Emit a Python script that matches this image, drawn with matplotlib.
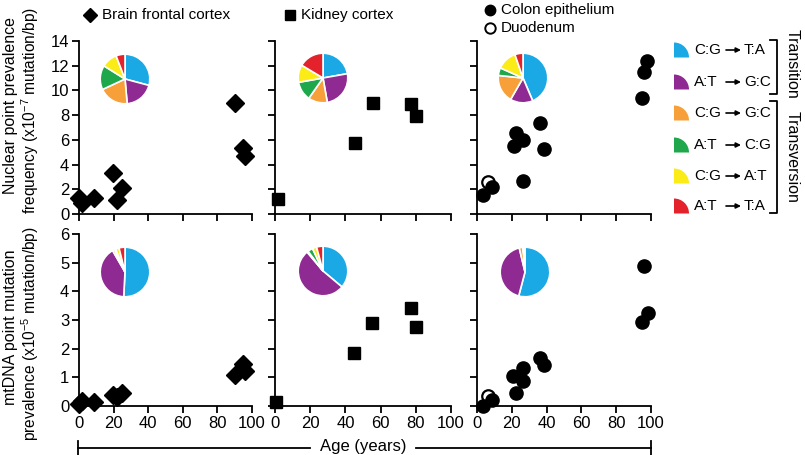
import matplotlib
matplotlib.use('Agg')
import matplotlib.pyplot as plt
from matplotlib.patches import Wedge
from matplotlib.lines import Line2D

plt.rcParams['font.family'] = ['Liberation Sans', 'DejaVu Sans']
plt.rcParams['mathtext.fontset'] = 'custom'
plt.rcParams['mathtext.rm'] = 'Liberation Sans'
plt.rcParams['mathtext.it'] = 'Liberation Sans'
plt.rcParams['mathtext.default'] = 'regular'

W, H = 805, 455

# ---- data ----
brain_age_nuc = [0, 1.5, 8.7, 19.9, 21.8, 25.1, 90, 94.8, 95.8]
brain_nuc = [1.27, 0.86, 1.27, 3.34, 1.13, 2.08, 8.96, 5.31, 4.69]
brain_age_mt = [0, 1.5, 8.7, 19.9, 21.8, 25.1, 90, 94.8, 95.8]
brain_mt = [0.06, 0.18, 0.14, 0.37, 0.32, 0.47, 1.07, 1.48, 1.23]

kidney_age_nuc = [1.5, 45.5, 55.4, 77.2, 80.1]
kidney_nuc = [1.19, 5.77, 8.96, 8.87, 7.93]
kidney_age_mt = [0.6, 45, 55, 77, 79.9]
kidney_mt = [0.14, 1.86, 2.88, 3.43, 2.74]

colon_age_nuc = [3.4, 8.6, 21.1, 22.4, 26.2, 26.2, 36, 38.3, 94.8, 95.8, 97.7]
colon_nuc = [1.54, 2.16, 5.53, 6.53, 5.99, 2.67, 7.39, 5.23, 9.36, 11.46, 12.39]
colon_age_mt = [3.4, 8.6, 20.5, 22.6, 26.2, 26.4, 36, 38.3, 94.8, 96.2, 98.1]
colon_mt = [0.0, 0.22, 1.04, 0.46, 1.31, 0.86, 1.69, 1.42, 2.94, 4.89, 3.23]

duod_age_nuc = [6.1]
duod_nuc = [2.62]
duod_age_mt = [6.3]
duod_mt = [0.35]

mut_from = ['C:G', 'A:T', 'C:G', 'A:T', 'C:G', 'A:T']
mut_to = ['T:A', 'G:C', 'G:C', 'C:G', 'A:T', 'T:A']
mut_colors = ['#1ba9e6', '#8e2a91', '#f7a03a', '#1ea84b', '#fbeb16', '#e3222b']

# pie shares (degrees) per panel
pie_brain_nuc = [105, 70, 70, 57, 37, 21]
pie_kidney_nuc = [80, 90, 45, 45, 41, 59]
pie_colon_nuc = [157, 53, 66, 18, 47, 19]
pie_brain_mt = [183, 147, 5, 3, 8, 14]
pie_kidney_mt = [130, 190, 3, 12, 10, 15]
pie_colon_mt = [195, 152, 9, 0.5, 2, 2]

fig = plt.figure(figsize=(W / 100, H / 100), dpi=100)


def px_axes(x0, y0, x1, y1):
    return fig.add_axes([x0 / W, 1 - y1 / H, (x1 - x0) / W, (y1 - y0) / H])


cols = [(79, 252), (275, 451), (477, 651)]
rows = [(41, 214), (234, 406)]

axes = {}
for r, (y0, y1) in enumerate(rows):
    for c, (x0, x1) in enumerate(cols):
        ax = px_axes(x0, y0, x1, y1)
        for s in ['top', 'right']:
            ax.spines[s].set_visible(False)
        for s in ['left', 'bottom']:
            ax.spines[s].set_linewidth(1.3)
        ax.set_xlim(0, 100)
        ax.set_xticks([0, 20, 40, 60, 80, 100])
        ax.tick_params(direction='out', length=5, width=1.3, labelsize=12, pad=2)
        if r == 0:
            ax.set_ylim(0, 14)
            ax.set_yticks(range(0, 15, 2))
            ax.set_xticklabels([])
        else:
            ax.set_ylim(0, 6)
            ax.set_yticks(range(0, 7))
        if c > 0:
            ax.set_yticklabels([])
        ax.patch.set_alpha(0)
        axes[(r, c)] = ax

mk = dict(color='black', linestyle='none', clip_on=False, zorder=5)
axes[(0, 0)].plot(brain_age_nuc, brain_nuc, marker='D', ms=9.5, **mk)
axes[(1, 0)].plot(brain_age_mt, brain_mt, marker='D', ms=9.5, **mk)
axes[(0, 1)].plot(kidney_age_nuc, kidney_nuc, marker='s', ms=8.5, **mk)
axes[(1, 1)].plot(kidney_age_mt, kidney_mt, marker='s', ms=8.5, **mk)
axes[(0, 2)].plot(colon_age_nuc, colon_nuc, marker='o', ms=9.5, **mk)
axes[(1, 2)].plot(colon_age_mt, colon_mt, marker='o', ms=9.5, **mk)
axes[(0, 2)].plot(duod_age_nuc, duod_nuc, marker='o', ms=9, mfc='white',
                  mec='black', mew=1.6, linestyle='none', zorder=4)
axes[(1, 2)].plot(duod_age_mt, duod_mt, marker='o', ms=9, mfc='white',
                  mec='black', mew=1.6, linestyle='none', zorder=4)

# pies
pie_specs = [((125, 79), pie_brain_nuc), ((323, 78), pie_kidney_nuc),
             ((523, 78), pie_colon_nuc), ((125, 272), pie_brain_mt),
             ((323, 271), pie_kidney_mt), ((525, 272), pie_colon_mt)]
R = 31
for (cx, cy), vals in pie_specs:
    pax = px_axes(cx - R, cy - R, cx + R, cy + R)
    pax.pie(vals, colors=mut_colors, startangle=90, counterclock=False,
            wedgeprops=dict(edgecolor='white', linewidth=1.2))
    pax.set_aspect('equal')

# y labels, one text per line so the superscript does not spread the lines
lab = dict(rotation=90, ha='center', va='center', fontsize=11.5)
fig.text(11 / W, 1 - 106 / H, 'Nuclear point prevalence', **lab)
fig.text(30 / W, 1 - 110 / H, 'frequency (x10$^{-7}$ mutation/bp)', fontsize=11.2,
         rotation=90, ha='center', va='center')
fig.text(11 / W, 1 - 327 / H, 'mtDNA point mutation', **lab)
fig.text(30 / W, 1 - 334 / H, 'prevalence (x10$^{-5}$ mutation/bp)', fontsize=11.2,
         rotation=90, ha='center', va='center')

# top legends
fig.add_artist(Line2D([90 / W], [1 - 15 / H], marker='D', ms=7.5, color='black'))
fig.text(102 / W, 1 - 15 / H, 'Brain frontal cortex', va='center', fontsize=11)
fig.add_artist(Line2D([290 / W], [1 - 15 / H], marker='s', ms=7, color='black'))
fig.text(301 / W, 1 - 15 / H, 'Kidney cortex', va='center', fontsize=11)
fig.add_artist(Line2D([490 / W], [1 - 10 / H], marker='o', ms=7.5, color='black'))
fig.text(501 / W, 1 - 10 / H, 'Colon epithelium', va='center', fontsize=11)
fig.add_artist(Line2D([490 / W], [1 - 28 / H], marker='o', ms=7.5, mfc='white',
                      mec='black', mew=1.4, color='black'))
fig.text(501 / W, 1 - 28 / H, 'Duodenum', va='center', fontsize=11)

# right legend, in pixel units
lax = px_axes(660, 30, 805, 230)
lax.set_xlim(660, 805)
lax.set_ylim(230, 30)
lax.axis('off')
leg_y = [50, 82, 113, 145, 176, 206]
for yy, a, b, col in zip(leg_y, mut_from, mut_to, mut_colors):
    lax.add_patch(Wedge((674, yy + 7.5), 15, 270, 360, facecolor=col, edgecolor='none'))
    lax.text(694, yy, a, va='center', fontsize=11)
    lax.annotate('', xy=(741, yy), xytext=(726, yy),
                 arrowprops=dict(arrowstyle='-|>', color='black', lw=1.2,
                                 mutation_scale=7, shrinkA=0, shrinkB=0))
    lax.text(744, yy, b, va='center', fontsize=11)
bk = dict(color='black', linewidth=1.3)
lax.plot([770, 777, 777, 770], [40, 40, 94, 94], **bk)
lax.plot([770, 777, 777, 770], [101, 101, 213, 213], **bk)
lax.text(792, 64, 'Transition', rotation=-90, ha='center', va='center', fontsize=11.5)
lax.text(792, 157, 'Transversion', rotation=-90, ha='center', va='center', fontsize=11.5)

# age axis line
bax = px_axes(0, 430, W, 455)
bax.set_xlim(0, W)
bax.set_ylim(455, 430)
bax.axis('off')
bax.plot([78, 310], [448, 448], **bk)
bax.plot([416, 651], [448, 448], **bk)
bax.plot([78, 78], [441, 455], **bk)
bax.plot([651, 651], [441, 455], **bk)
bax.text(363, 446, 'Age (years)', ha='center', va='center', fontsize=12)

fig.savefig('out.png', dpi=100)
